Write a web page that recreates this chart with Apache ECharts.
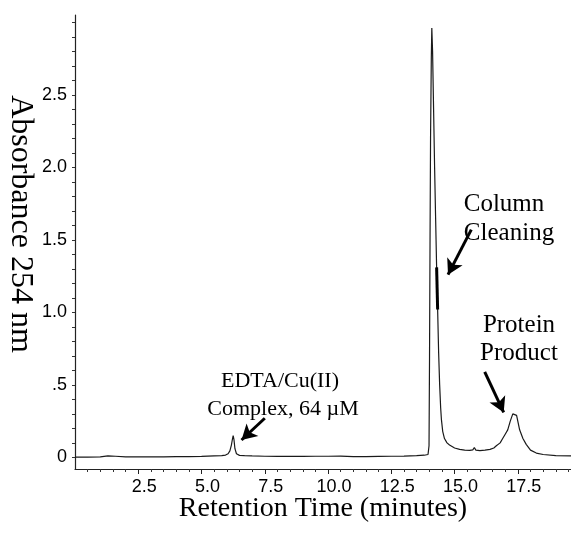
<!DOCTYPE html>
<html>
<head>
<meta charset="utf-8">
<script src="https://cdn.jsdelivr.net/npm/echarts@6/dist/echarts.min.js"></script>
<style>html,body{margin:0;padding:0;background:#fff}#c{width:571px;height:533px}</style>
</head>
<body>
<div id="c"></div>
<script>
// Retention time (minutes)
const retentionTime = [0, 0.5, 1.0, 1.3, 1.6, 2.0, 2.5, 3.0, 3.5, 4.0, 4.5, 5.0, 5.5, 5.8, 5.95, 6.05, 6.12, 6.18, 6.22, 6.25, 6.28, 6.32, 6.38, 6.5, 6.7, 7.0, 7.5, 8.0, 8.5, 9.0, 9.5, 10.0, 10.5, 11.0, 11.5, 12.0, 12.5, 13.0, 13.5, 13.8, 13.95, 13.99, 14.01, 14.03, 14.05, 14.08, 14.1, 14.13, 14.17, 14.21, 14.25, 14.29, 14.33, 14.37, 14.41, 14.45, 14.48, 14.53, 14.6, 14.7, 14.8, 14.9, 15.0, 15.2, 15.4, 15.6, 15.72, 15.78, 15.84, 16.0, 16.2, 16.4, 16.55, 16.65, 16.8, 16.9, 17.0, 17.1, 17.2, 17.3, 17.37, 17.45, 17.57, 17.7, 17.83, 18.0, 18.23, 18.5, 19.0, 19.6];
// Absorbance at 254 nm
const absorbance = [0.002, 0.002, 0.004, 0.01, 0.008, 0.004, 0.003, 0.004, 0.004, 0.005, 0.006, 0.007, 0.01, 0.012, 0.016, 0.025, 0.045, 0.085, 0.125, 0.15, 0.125, 0.06, 0.025, 0.014, 0.012, 0.01, 0.008, 0.007, 0.007, 0.007, 0.008, 0.008, 0.009, 0.006, 0.006, 0.007, 0.008, 0.009, 0.012, 0.015, 0.02, 0.08, 0.7, 1.5, 2.2, 2.75, 2.96, 2.8, 2.4, 2.0, 1.65, 1.31, 1.02, 0.72, 0.5, 0.34, 0.26, 0.18, 0.13, 0.1, 0.085, 0.075, 0.065, 0.055, 0.05, 0.048, 0.052, 0.068, 0.05, 0.047, 0.05, 0.055, 0.065, 0.08, 0.1, 0.13, 0.16, 0.19, 0.25, 0.3, 0.31, 0.29, 0.19, 0.13, 0.09, 0.05, 0.03, 0.02, 0.012, 0.01];
// Thickened "column cleaning" segment on the main peak
const cleaningTime = [14.29, 14.33];
const cleaningAbs = [1.31, 1.02];
// Annotation arrows (tail -> head), data units
const arrowTailT = [7.5, 15.66, 16.19];
const arrowTailA = [0.27, 1.57, 0.59];
const arrowHeadT = [6.58, 14.74, 16.94];
const arrowHeadA = [0.12, 1.26, 0.31];
// Ticks and labels
const xLabelVals = [2.5, 5.0, 7.5, 10.0, 12.5, 15.0, 17.5];
const xLabelText = ['2.5', '5.0', '7.5', '10.0', '12.5', '15.0', '17.5'];
const xMinorVals = [0.5, 1.0, 1.5, 2.0, 3.0, 3.5, 4.0, 4.5, 5.5, 6.0, 6.5, 7.0, 8.0, 8.5, 9.0, 9.5, 10.5, 11.0, 11.5, 12.0, 13.0, 13.5, 14.0, 14.5, 15.5, 16.0, 16.5, 17.0, 18.0, 18.5, 19.0, 19.5];
const yLabelVals = [0, 0.5, 1.0, 1.5, 2.0, 2.5];
const yLabelText = ['0', '.5', '1.0', '1.5', '2.0', '2.5'];
const yTickVals = [0, 0.1, 0.2, 0.3, 0.4, 0.5, 0.6, 0.7, 0.8, 0.9, 1.0, 1.1, 1.2, 1.3, 1.4, 1.5, 1.6, 1.7, 1.8, 1.9, 2.0, 2.1, 2.2, 2.3, 2.4, 2.5, 2.6, 2.7, 2.8, 2.9, 3.0];

const trace = retentionTime.map((t, i) => [t, absorbance[i]]);
const cleaning = cleaningTime.map((t, i) => [t, cleaningAbs[i]]);
const arrows = arrowTailT.map((t, i) => [{coord: [t, arrowTailA[i]]}, {coord: [arrowHeadT[i], arrowHeadA[i]]}]);

const serif = 'Liberation Serif, Times New Roman, serif';
const sans = 'Liberation Sans, Arial, sans-serif';
const ink = '#000';

const chart = echarts.init(document.getElementById('c'), null, {renderer: 'canvas'});
chart.setOption({
  animation: false,
  backgroundColor: '#fff',
  grid: {left: 75, right: 0, top: 15, bottom: 64, containLabel: false, outerBoundsMode: 'none'},
  xAxis: [{
    type: 'value', min: 0, max: 19.6, position: 'bottom',
    name: 'Retention Time (minutes)', nameLocation: 'middle', nameGap: 26, nameMoveOverlap: false,
    nameTextStyle: {fontFamily: serif, fontSize: 28, color: ink},
    axisLine: {show: true, onZero: false, lineStyle: {color: '#222', width: 1.2}},
    axisTick: {show: true, customValues: xLabelVals, length: 5, lineStyle: {color: '#222'}},
    axisLabel: {show: true, customValues: xLabelVals, margin: 9, padding: [0, 0, 0, 12], fontFamily: sans, fontSize: 18, color: ink,
      formatter: v => xLabelText[xLabelVals.indexOf(v)] ?? ''},
    splitLine: {show: false}
  }, {
    type: 'value', min: 0, max: 19.6, position: 'bottom',
    axisLine: {show: false, onZero: false},
    axisTick: {show: true, customValues: xMinorVals, length: 3, lineStyle: {color: '#333'}},
    axisLabel: {show: false}, splitLine: {show: false}
  }],
  yAxis: [{
    type: 'value', min: -0.08, max: 3.05, position: 'left',
    name: 'Absorbance 254 nm', nameLocation: 'middle', nameGap: 39, nameRotate: -90, nameMoveOverlap: false,
    nameTextStyle: {fontFamily: serif, fontSize: 32, color: ink, padding: [0, 36, 0, 0]},
    axisLine: {show: true, onZero: false, lineStyle: {color: '#222', width: 1.2}},
    axisTick: {show: true, customValues: yTickVals, length: 3, lineStyle: {color: '#333'}},
    axisLabel: {show: true, customValues: yLabelVals, margin: 8, padding: [8, 0, 0, 0], fontFamily: sans, fontSize: 18, color: ink,
      formatter: v => yLabelText[yLabelVals.indexOf(v)] ?? ''},
    splitLine: {show: false}
  }],
  series: [{
    type: 'line', data: trace, xAxisIndex: 0, yAxisIndex: 0,
    showSymbol: false, symbol: 'none',
    lineStyle: {color: '#1a1a1a', width: 1.2},
    markLine: {
      silent: true, symbol: ['none', 'arrow'], symbolSize: [13, 15],
      lineStyle: {color: '#000', width: 3, type: 'solid'},
      label: {show: false},
      data: arrows
    }
  }, {
    type: 'line', data: cleaning, showSymbol: false, symbol: 'none',
    lineStyle: {color: '#000', width: 3}
  }],
  graphic: [
    {type: 'text', x: 280, y: 381, style: {text: 'EDTA/Cu(II)', font: '22px ' + serif, fill: ink, align: 'center', verticalAlign: 'middle'}},
    {type: 'text', x: 283, y: 409, style: {text: 'Complex, 64 \u00b5M', font: '22px ' + serif, fill: ink, align: 'center', verticalAlign: 'middle'}},
    {type: 'text', x: 504, y: 204, style: {text: 'Column', font: '25px ' + serif, fill: ink, align: 'center', verticalAlign: 'middle'}},
    {type: 'text', x: 509, y: 233, style: {text: 'Cleaning', font: '25px ' + serif, fill: ink, align: 'center', verticalAlign: 'middle'}},
    {type: 'text', x: 519, y: 325, style: {text: 'Protein', font: '25px ' + serif, fill: ink, align: 'center', verticalAlign: 'middle'}},
    {type: 'text', x: 519, y: 353, style: {text: 'Product', font: '25px ' + serif, fill: ink, align: 'center', verticalAlign: 'middle'}}
  ]
});
</script>
</body>
</html>
